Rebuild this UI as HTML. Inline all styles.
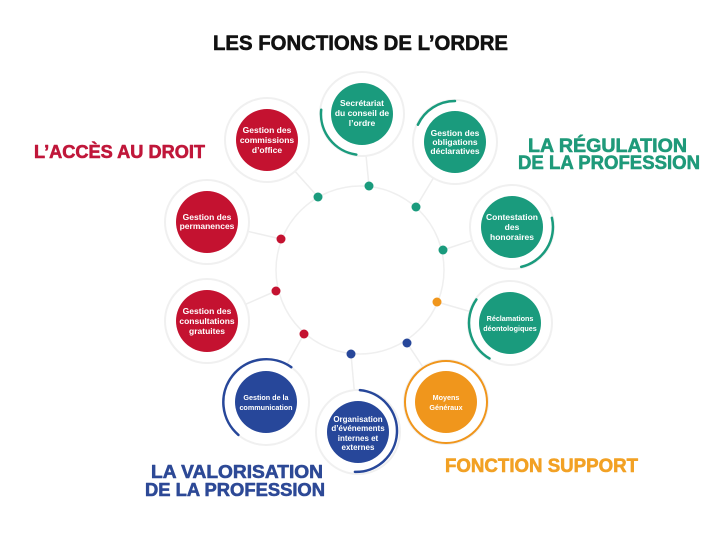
<!DOCTYPE html>
<html>
<head>
<meta charset="utf-8">
<style>
  html,body{margin:0;padding:0;background:#fff;}
  svg{display:block;}
  .h{font-family:"Liberation Sans",sans-serif;font-weight:bold;stroke-width:0.6;stroke-linejoin:round;}
  .n{font-family:"Liberation Sans",sans-serif;font-weight:bold;fill:#fff;text-anchor:middle;}
</style>
</head>
<body>
<svg width="720" height="536" viewBox="0 0 720 536" xmlns="http://www.w3.org/2000/svg">
  <rect width="720" height="536" fill="#fff"/>

  <!-- central faint ring -->
  <circle cx="360" cy="270" r="84" fill="none" stroke="#efefef" stroke-width="1.5"/>

  <!-- faint connectors -->
  <g stroke="#eeeeee" stroke-width="1.5">
    <line x1="369" y1="186" x2="362" y2="114"/>
    <line x1="318" y1="197" x2="267" y2="140"/>
    <line x1="416" y1="207" x2="455" y2="142"/>
    <line x1="443" y1="250" x2="512" y2="227"/>
    <line x1="437" y1="302" x2="510" y2="323"/>
    <line x1="407" y1="343" x2="446" y2="402"/>
    <line x1="351" y1="354" x2="358" y2="432"/>
    <line x1="304" y1="334" x2="266" y2="402"/>
    <line x1="276" y1="291" x2="207" y2="321"/>
    <line x1="281" y1="239" x2="207" y2="222"/>
  </g>

  <!-- halos -->
  <g fill="#fff" stroke="#f0f0f0" stroke-width="2">
    <circle cx="362" cy="114" r="42"/>
    <circle cx="267" cy="140" r="42"/>
    <circle cx="455" cy="142" r="42"/>
    <circle cx="207" cy="222" r="42"/>
    <circle cx="512" cy="227" r="42"/>
    <circle cx="207" cy="321" r="42"/>
    <circle cx="510" cy="323" r="42"/>
    <circle cx="266" cy="402" r="43"/>
    <circle cx="358" cy="432" r="42"/>
    <circle cx="446" cy="402" r="42"/>
  </g>

  <!-- accent arcs -->
  <g fill="none" stroke-width="2.5" stroke-linecap="round">
    <path d="M356.3,154.6 A41,41 0 0 1 321.2,109.7" stroke="#1a9b7d"/>
    <path d="M417.9,124.7 A41,41 0 0 1 455,101" stroke="#1a9b7d"/>
    <path d="M551.9,217.8 A41,41 0 0 1 521.2,266.9" stroke="#1a9b7d"/>
    <path d="M489.5,358.5 A41,41 0 0 1 476.4,299.5" stroke="#1a9b7d"/>
    <path d="M238.4,434.9 A43,43 0 0 1 291.3,367.2" stroke="#27479a"/>
    <path d="M359.9,390.1 A41,41 0 0 1 354.9,471.9" stroke="#27479a"/>
    <circle cx="446" cy="402" r="41" stroke="#f0961c" stroke-width="2"/>
  </g>

  <!-- dots -->
  <g>
    <circle cx="369" cy="186" r="4.5" fill="#1a9b7d"/>
    <circle cx="318" cy="197" r="4.5" fill="#1a9b7d"/>
    <circle cx="416" cy="207" r="4.5" fill="#1a9b7d"/>
    <circle cx="443" cy="250" r="4.5" fill="#1a9b7d"/>
    <circle cx="437" cy="302" r="4.5" fill="#f0961c"/>
    <circle cx="407" cy="343" r="4.5" fill="#27479a"/>
    <circle cx="351" cy="354" r="4.5" fill="#27479a"/>
    <circle cx="304" cy="334" r="4.5" fill="#c41230"/>
    <circle cx="276" cy="291" r="4.5" fill="#c41230"/>
    <circle cx="281" cy="239" r="4.5" fill="#c41230"/>
  </g>

  <!-- nodes -->
  <circle cx="362" cy="114" r="31" fill="#1a9b7d"/>
  <circle cx="267" cy="140" r="31" fill="#c41230"/>
  <circle cx="455" cy="142" r="31" fill="#1a9b7d"/>
  <circle cx="207" cy="222" r="31" fill="#c41230"/>
  <circle cx="512" cy="227" r="31" fill="#1a9b7d"/>
  <circle cx="207" cy="321" r="31" fill="#c41230"/>
  <circle cx="510" cy="323" r="31" fill="#1a9b7d"/>
  <circle cx="266" cy="402" r="31" fill="#27479a"/>
  <circle cx="358" cy="432" r="31" fill="#27479a"/>
  <circle cx="446" cy="402" r="31" fill="#f0961c"/>

  <!-- node labels -->
  <g class="n" font-size="8.5">
    <text x="362" y="106">Secrétariat</text>
    <text x="362" y="116">du conseil de</text>
    <text x="362" y="126">l’ordre</text>

    <text x="267" y="133">Gestion des</text>
    <text x="267" y="143">commissions</text>
    <text x="267" y="153">d’office</text>

    <text x="455" y="136">Gestion des</text>
    <text x="455" y="145">obligations</text>
    <text x="455" y="154">déclaratives</text>

    <text x="207" y="220">Gestion des</text>
    <text x="207" y="229">permanences</text>

    <text x="512" y="220">Contestation</text>
    <text x="512" y="230">des</text>
    <text x="512" y="240">honoraires</text>

    <text x="207" y="314">Gestion des</text>
    <text x="207" y="324">consultations</text>
    <text x="207" y="334">gratuites</text>
  </g>
  <g class="n" font-size="7.2">
    <text x="510" y="321">Réclamations</text>
    <text x="510" y="331">déontologiques</text>

    <text x="266" y="400">Gestion de la</text>
    <text x="266" y="410">communication</text>

    <text x="446" y="400">Moyens</text>
    <text x="446" y="410">Généraux</text>
  </g>
  <g class="n" font-size="8">
    <text x="358" y="422">Organisation</text>
    <text x="358" y="431">d’événements</text>
    <text x="358" y="441">internes et</text>
    <text x="358" y="450">externes</text>
  </g>

  <!-- headings -->
  <text class="h" x="213" y="50" font-size="21" fill="#111" stroke="#111" textLength="295" lengthAdjust="spacingAndGlyphs">LES FONCTIONS DE L’ORDRE</text>
  <text class="h" x="34" y="158" font-size="18" fill="#c0173a" stroke="#c0173a" textLength="171" lengthAdjust="spacingAndGlyphs">L’ACCÈS AU DROIT</text>
  <text class="h" x="528" y="152" font-size="19" fill="#1f9a7a" stroke="#1f9a7a" textLength="159" lengthAdjust="spacingAndGlyphs">LA RÉGULATION</text>
  <text class="h" x="518" y="169" font-size="19" fill="#1f9a7a" stroke="#1f9a7a" textLength="182" lengthAdjust="spacingAndGlyphs">DE LA PROFESSION</text>
  <text class="h" x="151" y="478" font-size="18" fill="#2d4996" stroke="#2d4996" textLength="172" lengthAdjust="spacingAndGlyphs">LA VALORISATION</text>
  <text class="h" x="145" y="496" font-size="18" fill="#2d4996" stroke="#2d4996" textLength="180" lengthAdjust="spacingAndGlyphs">DE LA PROFESSION</text>
  <text class="h" x="445" y="472" font-size="19" fill="#f2a124" stroke="#f2a124" textLength="193" lengthAdjust="spacingAndGlyphs">FONCTION SUPPORT</text>
</svg>
</body>
</html>
